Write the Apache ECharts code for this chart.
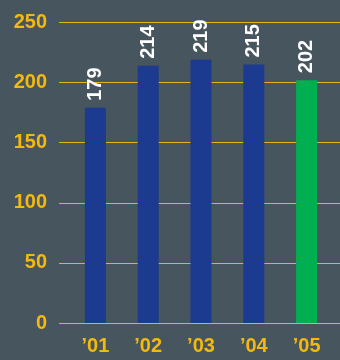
<!DOCTYPE html>
<html>
<head>
<meta charset="utf-8">
<script src="https://cdn.jsdelivr.net/npm/echarts@6/dist/echarts.min.js"></script>
<style>
  html, body { margin: 0; padding: 0; background: #47555f; }
  #chart { width: 340px; height: 360px; }
</style>
</head>
<body>
<div id="chart"></div>
<script>
// Yearly totals, 2001–2005
const years = ['\u201901', '\u201902', '\u201903', '\u201904', '\u201905'];
const totals = [179, 214, 219, 215, 202];
const yTicks = [0, 50, 100, 150, 200, 250];

const BLUE = '#1c3a8f';
const GREEN = '#00b050';
const GOLD = '#f5b90c';
const RULE = '#e6b41a';
const FONT = '"Liberation Sans", Arial, sans-serif';

const chart = echarts.init(document.getElementById('chart'), null, { renderer: 'canvas' });

const barData = totals.map((v, i) => ({
  value: v,
  itemStyle: { color: i === totals.length - 1 ? GREEN : BLUE }
}));

chart.setOption({
  backgroundColor: '#47555f',
  animation: false,
  grid: [
    // full-width grid carrying the value axis and its rules
    { left: 59, right: 0, top: 22.5, bottom: 37 },
    // inner grid carrying the bars and year labels
    { left: 69, right: 7, top: 22.5, bottom: 37 }
  ],
  xAxis: [
    { gridIndex: 0, type: 'category', data: years, show: false },
    {
      gridIndex: 1, type: 'category', data: years,
      axisLine: { show: false }, axisTick: { show: false },
      axisLabel: { color: GOLD, fontFamily: FONT, fontWeight: 'bold', fontSize: 20, margin: 13 }
    }
  ],
  yAxis: [
    {
      gridIndex: 0, type: 'value', min: yTicks[0], max: yTicks[yTicks.length - 1], interval: 50,
      axisLine: { show: false }, axisTick: { show: false },
      splitLine: { lineStyle: { color: RULE, width: 1 } },
      axisLabel: {
        color: GOLD, fontFamily: FONT, fontWeight: 'bold', fontSize: 20, margin: 12,
        padding: [0, 0, 11, 0]
      }
    },
    {
      gridIndex: 1, type: 'value', min: yTicks[0], max: yTicks[yTicks.length - 1], interval: 50,
      show: false, splitLine: { show: false }
    }
  ],
  series: [{
    type: 'bar',
    xAxisIndex: 1, yAxisIndex: 1,
    data: barData,
    barWidth: 21,
    label: {
      show: true, position: 'top', rotate: 90, distance: 7,
      align: 'left', verticalAlign: 'middle',
      color: '#ffffff', fontFamily: FONT, fontWeight: 'bold', fontSize: 20
    }
  }]
});
</script>
</body>
</html>
